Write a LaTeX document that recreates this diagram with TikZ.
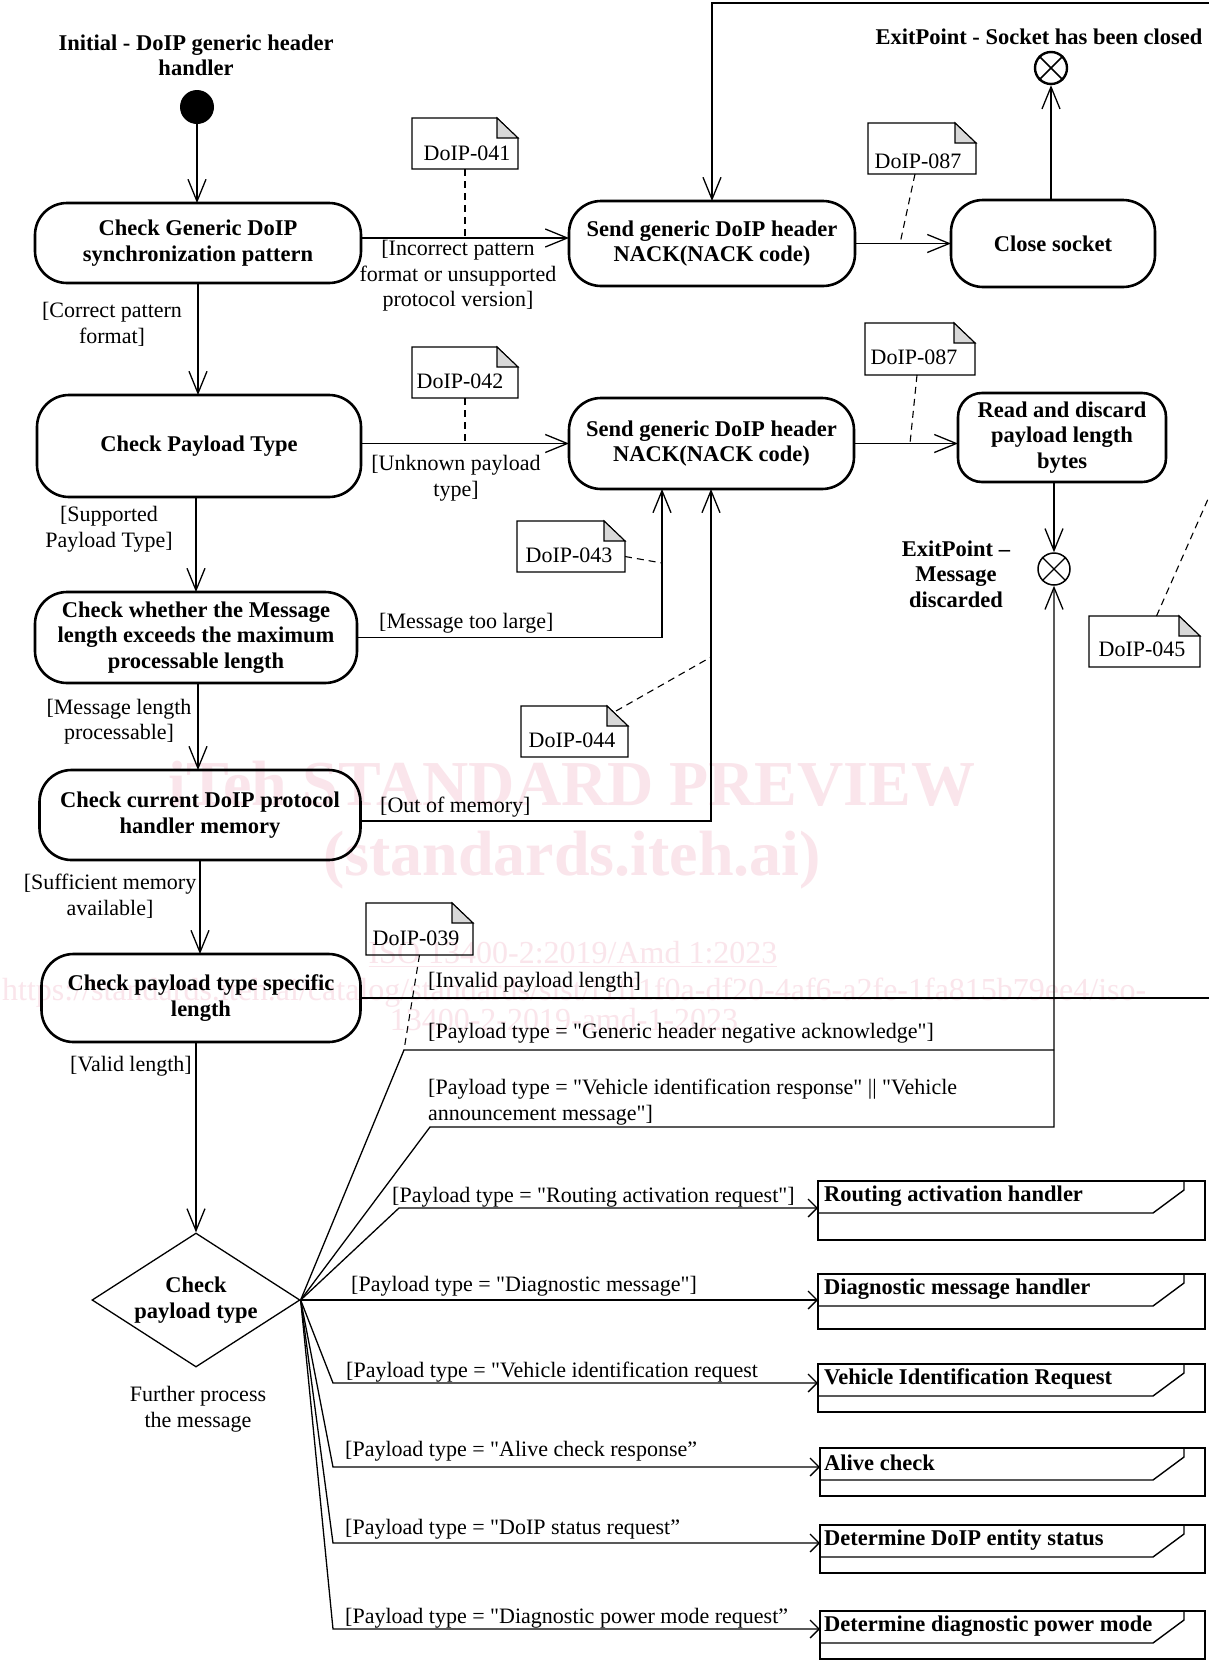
\documentclass[tikz,border=0pt]{standalone}
\usepackage{fontspec}
\setmainfont{Liberation Serif}[Ligatures=TeXOff]
\usetikzlibrary{arrows.meta,shapes.geometric,calc}
\definecolor{wmpink}{RGB}{250,229,235}
\definecolor{foldgray}{RGB}{216,216,216}
\newcommand\dgfont{\fontsize{22}{25.5}\selectfont}
\newcommand\dgbold{\fontsize{22.5}{25.5}\selectfont\bfseries}
\newcommand\wmbig{\fontsize{64}{70}\selectfont\bfseries}
\newcommand\wmsmall{\fontsize{32}{36}\selectfont}
% note: name, left, top, right, bottom, text x, text y, text
\newcommand\dnote[8]{%
  \node[nbox, minimum width={(#4)-(#2)}, minimum height={(#5)-(#3)}] (#1) at ({((#2)+(#4))/2},{((#3)+(#5))/2}) {};
  \node[ntxt] (#1t) at (#6,#7) {#8};
  \draw[nln] (#1.south west) -- (#1.north west) -- ([xshift=-21pt]#1.north east) -- ([yshift=-20pt]#1.north east) -- (#1.south east) -- cycle;
  \filldraw[nln,fill=foldgray] ([xshift=-21pt]#1.north east) -- ([xshift=-21pt,yshift=-20pt]#1.north east) -- ([yshift=-20pt]#1.north east) -- cycle;
}
% call behaviour frame: name, left, top, bottom, text
\newcommand\cbframe[5]{%
  \node[frm, anchor=north west, minimum width={1205-(#2)}, minimum height={(#4)-(#3)}] (#1) at (#2,#3) {};
  \draw[frln] (#2,#3+32) -- (1153,#3+32) -- (1184,#3+9) -- (1184,#3);
  \node[frtxt, anchor=west] (#1t) at (824,#3+15) {#5};
}
\begin{document}
\begin{tikzpicture}[x=1pt,y=-1pt,
  act/.style={draw, line width=2.6pt, rounded corners=32pt, align=center, font=\dgbold, inner sep=0pt, outer sep=0pt},
  lbl/.style={font=\dgfont, inner sep=0pt, align=center},
  lbll/.style={font=\dgfont, inner sep=0pt, align=left, anchor=west},
  ttl/.style={font=\dgbold, inner sep=0pt, align=center},
  nbox/.style={inner sep=0pt, outer sep=0pt},
  ntxt/.style={font=\dgfont, inner sep=0pt},
  nln/.style={line width=1.1pt},
  frm/.style={draw, line width=1.4pt, inner sep=0pt, outer sep=0pt},
  frln/.style={line width=1.4pt},
  frtxt/.style={font=\dgbold, inner sep=0pt},
  conn/.style={line width=1.3pt},
  flow/.style={line width=1.3pt, -{Straight Barb[length=22pt,width=18pt]}},
  flowsm/.style={line width=1.3pt, -{Straight Barb[length=9pt,width=18pt]}},
  dashln/.style={line width=1.1pt, dash pattern=on 7pt off 5pt},
  wmk/.style={text=wmpink, inner sep=0pt},
  dmd/.style={diamond, draw, aspect=1.55, inner sep=0pt, line width=1.3pt, align=center, font=\dgbold},
  exitpt/.style={circle, draw, minimum size=32pt, inner sep=0pt, fill=white}
]
\useasboundingbox (0,0) rectangle (1208,1663);
\fill[white] (0,0) rectangle (1208,1663);

% watermark
\node[wmk, font=\wmbig] (w1) at (572,784) {iTeh STANDARD PREVIEW};
\node[wmk, font=\wmbig] (w2) at (572,860) {(standards.iteh.ai)};
\node[wmk, font=\wmsmall] (w3) at (573,954) {\underline{ISO 13400-2:2019/Amd 1:2023}};
\node[wmk, font=\wmsmall, anchor=west] (w4) at (2,993) {https://standards.iteh.ai/catalog/standards/sist/f1ff1f0a-df20-4af6-a2fe-1fa815b79ee4/iso-};
\node[wmk, font=\wmsmall] (w5) at (564,1020) {13400-2-2019-amd-1-2023};

% titles
\node[ttl] (t0) at (196,55.5) {Initial - DoIP generic header\\handler};
\node[ttl] (tx1) at (1039,37) {ExitPoint - Socket has been closed};
\node[ttl] (tx2) at (956,574) {ExitPoint –\\Message\\discarded};

% initial and exit points
\node[circle, fill=black, minimum size=34pt, inner sep=0pt] (ini) at (197,107) {};
\node[exitpt, line width=2.4pt] (e1) at (1051,68) {};
\draw[line width=1.6pt] (e1.north west) -- (e1.south east) (e1.north east) -- (e1.south west);
\node[exitpt, line width=1.5pt] (e2) at (1054,569) {};
\draw[line width=1.2pt] (e2.north west) -- (e2.south east) (e2.north east) -- (e2.south west);

% activities
\node[act, minimum width=326pt, minimum height=80pt] (b1) at (198,243) {Check Generic DoIP\\synchronization pattern};
\node[act, minimum width=324pt, minimum height=102pt] (b2) at (199,446) {Check Payload Type};
\node[act, minimum width=322pt, minimum height=91pt] (b3) at (196,637.5) {Check whether the Message\\length exceeds the maximum\\processable length};
\node[act, minimum width=321pt, minimum height=90pt] (b4) at (200,815) {Check current DoIP protocol\\handler memory};
\node[act, minimum width=319pt, minimum height=88pt] (b5) at (201,998) {Check payload type specific\\length};
\node[act, minimum width=286pt, minimum height=85pt] (s1) at (712,243.5) {Send generic DoIP header\\NACK(NACK code)};
\node[act, minimum width=204pt, minimum height=87pt] (cl) at (1053,243.5) {Close socket};
\node[act, minimum width=285pt, minimum height=91pt] (s2) at (711.5,443.5) {Send generic DoIP header\\NACK(NACK code)};
\node[act, rounded corners=24pt, minimum width=208pt, minimum height=89pt] (rd) at (1062,437.5) {Read and discard\\payload length\\bytes};
\node[dmd, minimum width=208pt, minimum height=134pt] (dia) at (196,1300) {Check\\payload type};
\node[lbl] (fp) at (198,1409) {Further process\\the message};

% notes
\dnote{n041}{412}{118}{518}{169}{467}{153}{DoIP-041}
\dnote{n042}{412}{347}{518}{398}{460}{381}{DoIP-042}
\dnote{n087a}{868}{123}{976}{174}{918}{161}{DoIP-087}
\dnote{n087b}{865}{323}{975}{375}{914}{357}{DoIP-087}
\dnote{n043}{517}{521}{625}{572}{569}{555}{DoIP-043}
\dnote{n044}{521}{706}{628}{757}{572}{740}{DoIP-044}
\dnote{n045}{1089}{616}{1200}{667}{1142}{649}{DoIP-045}
\dnote{n039}{366}{903}{473}{955}{416}{938}{DoIP-039}

% frames
\cbframe{fr1}{818}{1181}{1240}{Routing activation handler}
\cbframe{fr2}{818}{1274}{1329}{Diagnostic message handler}
\cbframe{fr3}{818}{1364}{1412}{Vehicle Identification Request}
\cbframe{fr4}{820}{1448}{1496}{Alive check}
\cbframe{fr5}{820}{1525}{1573}{Determine DoIP entity status}
\cbframe{fr6}{820}{1611}{1659}{Determine diagnostic power mode}

% helper coordinates
\coordinate (a1) at ([yshift=5pt]b1.east);
\coordinate (topR) at (1212,3);
\coordinate (offR) at (1212,997);
\coordinate (up1) at (662,637.5);
\coordinate (up2) at (711,821);
\coordinate (k1) at (404,1050);
\coordinate (k2) at (430,1127);
\coordinate (k3) at (399,1208);
\coordinate (k5) at (333,1383);
\coordinate (k6) at (333,1467);
\coordinate (k7) at (333,1543);
\coordinate (k8) at (333,1629);
\coordinate (d87a) at (900,243.5);
\coordinate (d87b) at (910,443.5);
\coordinate (d43) at (662,563);
\coordinate (d44) at (711,657);
\coordinate (d45) at (1212,490);

% connectors
\draw[flow] (ini.south) -- (ini.south |- b1.north);
\draw[flow] (a1) -- (a1 -| s1.west);
\draw[flow] (s1.east) -- (cl.west);
\draw[flow] (e1 |- cl.north) -- (e1.south);
\draw[flow] (topR) -| (s1.north);
\draw[flow] (b1.south) -- (b1.south |- b2.north);
\draw[flow] (s2.west -| b2.east) -- (s2.west);
\draw[flow] (b3.north |- b2.south) -- (b3.north);
\draw[flow] (s2.east) -- (s2.east -| rd.west);
\draw[flow] (b3.east) -- (up1) -- (up1 |- s2.south);
\draw[flow] ([xshift=2pt]b3.south) -- ([xshift=2pt]b3.south |- b4.north);
\draw[flow] (b4.east |- up2) -- (up2) -- (up2 |- s2.south);
\draw[flow] (b4.south) -- (b4.south |- b5.north);
\draw[flow] (e2 |- rd.south) -- (e2.north);
\draw[conn] (b5.east) -- (b5.east -| offR);
\draw[flow] (dia.north |- b5.south) -- (dia.north);
\draw[conn] (dia.east) -- (k1) -- (k1 -| e2);
\draw[flow] (dia.east) -- (k2) -- (k2 -| e2) -- (e2.south);
\draw[flowsm] (dia.east) -- (k3) -- (k3 -| fr1.west);
\draw[flowsm] (dia.east) -- (dia.east -| fr2.west);
\draw[flowsm] (dia.east) -- (k5) -- (k5 -| fr3.west);
\draw[flowsm] (dia.east) -- (k6) -- (k6 -| fr4.west);
\draw[flowsm] (dia.east) -- (k7) -- (k7 -| fr5.west);
\draw[flowsm] (dia.east) -- (k8) -- (k8 -| fr6.west);

% note links
\draw[dashln] (n041.south) -- (n041.south |- a1);
\draw[dashln] ([xshift=-7pt]n087a.south) -- (d87a);
\draw[dashln] (n042.south) -- (n042.south |- s2.west);
\draw[dashln] ([xshift=-3pt]n087b.south) -- (d87b);
\draw[dashln] ([yshift=-10pt]n043.east) -- (d43);
\draw[dashln] ([xshift=-12pt,yshift=-5pt]n044.north east) -- (d44);
\draw[dashln] ([xshift=12pt]n045.north) -- (d45);
\draw[dashln] (n039.south) -- (k1);

% guard labels
\node[lbl] (g1) at (458,276) {[Incorrect pattern\\format or unsupported\\protocol version]};
\node[lbl] (g2) at (112,324.5) {[Correct pattern\\format]};
\node[lbl] (g3) at (456,478) {[Unknown payload\\type]};
\node[lbl] (g4) at (109,529) {[Supported\\Payload Type]};
\node[lbll] (g5) at (379,623) {[Message too large]};
\node[lbl] (g6) at (119,721.5) {[Message length\\processable]};
\node[lbll] (g7) at (380,807) {[Out of memory]};
\node[lbl] (g8) at (110,896) {[Sufficient memory\\available]};
\node[lbll] (g9) at (428,982) {[Invalid payload length]};
\node[lbll] (g10) at (428,1033) {[Payload type = "Generic header negative acknowledge"]};
\node[lbll] (g11) at (428,1102) {[Payload type = "Vehicle identification response" || "Vehicle\\announcement message"]};
\node[lbl] (g12) at (131,1066) {[Valid length]};
\node[lbll] (g13) at (392,1197) {[Payload type = "Routing activation request"]};
\node[lbll] (g14) at (351,1286) {[Payload type = "Diagnostic message"]};
\node[lbll] (g15) at (346,1372) {[Payload type = "Vehicle identification request};
\node[lbll] (g16) at (345,1451) {[Payload type = "Alive check response”};
\node[lbll] (g17) at (345,1529) {[Payload type = "DoIP status request”};
\node[lbll] (g18) at (345,1618) {[Payload type = "Diagnostic power mode request”};
\end{tikzpicture}
\end{document}
